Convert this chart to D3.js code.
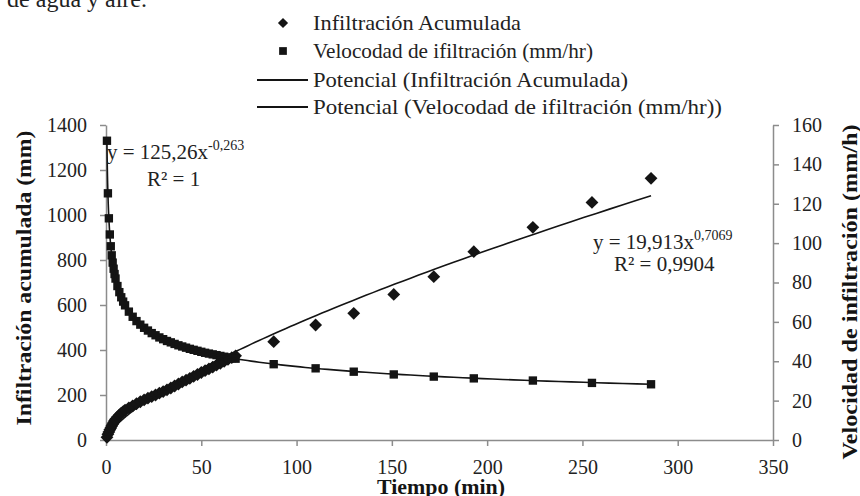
<!DOCTYPE html>
<html>
<head>
<meta charset="utf-8">
<script src="https://cdn.jsdelivr.net/npm/d3@7"></script>
<style>
  body { margin: 0; background: #fff; }
  svg, svg text { font-family: "Liberation Serif", "Times New Roman", serif; }
  svg { display: block; }
  .tick text { font-size: 20px; fill: #222; }
</style>
</head>
<body>
<div id="chart"></div>
<script>
// ── Data ──────────────────────────────────────────────────────────────────
const tiempo = [
  0.5, 1, 1.5, 2, 2.5, 3, 3.5, 4, 4.5, 5, 6, 7, 8, 9, 10, 12, 14, 16, 18, 20,
  22, 24, 26, 28, 30, 32, 34, 36, 38, 40, 42, 44, 46, 48, 50, 52, 54, 56, 58,
  60, 62, 64, 66, 68, 88, 110, 130, 151, 172, 193, 224, 255, 286,
];
const infiltracion = [
  12, 25, 35, 45, 53, 62, 70, 78, 85, 92, 102, 111, 119, 126, 133, 143, 152,
  161, 170, 178, 186, 193, 200, 208, 215, 223, 231, 240, 249, 258, 266, 274,
  283, 291, 300, 308, 316, 324, 333, 341, 350, 358, 366, 374, 437, 511, 563,
  647, 726, 837, 945, 1056, 1163,
];
const velocidad = [
  152, 125.3, 112.6, 104.4, 98.4, 93.8, 90.1, 87.0, 84.3, 82.0, 78.2, 75.1,
  72.5, 70.3, 68.4, 65.2, 62.6, 60.4, 58.6, 57.0, 55.6, 54.3, 53.2, 52.1, 51.2,
  50.3, 49.6, 48.8, 48.1, 47.5, 46.9, 46.3, 45.8, 45.3, 44.8, 44.3, 43.9, 43.5,
  43.1, 42.7, 42.3, 41.9, 41.6, 41.3, 38.5, 36.4, 34.7, 33.3, 32.2, 31.3, 30.2,
  29.0, 28.3,
];

// trendline coefficients shown on the chart (y = a·x^b)
const fitInfiltracion = { a: 19.913, b: 0.7069 };
const fitVelocidad = { a: 125.26, b: -0.263 };

const xTicks = [0, 50, 100, 150, 200, 250, 300, 350];
const yLeftTicks = [0, 200, 400, 600, 800, 1000, 1200, 1400];
const yRightTicks = [0, 20, 40, 60, 80, 100, 120, 140, 160];

const legendLabels = [
  "Infiltración Acumulada",
  "Velocodad de ifiltración (mm/hr)",
  "Potencial (Infiltración Acumulada)",
  "Potencial (Velocodad de ifiltración (mm/hr))",
];

// ── Dimensions ────────────────────────────────────────────────────────────
const W = 860, H = 496;
const margin = { top: 125, right: 87, bottom: 56, left: 106 };
const width = W - margin.left - margin.right;
const height = H - margin.top - margin.bottom;
const ink = "#141414";
const textInk = "#222";
const axisColor = "#8c8c8c";
const serif = "Liberation Serif";

const svg = d3.select("#chart").append("svg").attr("width", W).attr("height", H);

// cropped line of body text above the figure
svg.append("text")
  .attr("x", 147).attr("y", 7)
  .attr("text-anchor", "end")
  .style("font-family", serif)
  .style("font-size", "24px").style("fill", textInk)
  .text("de agua y aire.");

const g = svg.append("g").attr("transform", `translate(${margin.left},${margin.top})`);

// ── Scales ────────────────────────────────────────────────────────────────
const x = d3.scaleLinear().domain([0, 350]).range([0, width]);
const yL = d3.scaleLinear().domain([0, 1400]).range([height, 0]);
const yR = d3.scaleLinear().domain([0, 160]).range([height, 0]);

// ── Axes ──────────────────────────────────────────────────────────────────
function styleAxis(sel) {
  sel.attr("font-family", serif).attr("font-size", 20);
  sel.select(".domain").attr("stroke", axisColor).attr("stroke-width", 1.5);
  sel.selectAll(".tick line").attr("stroke", axisColor).attr("stroke-width", 1.5);
  sel.selectAll(".tick text").style("font-family", serif).attr("fill", textInk);
}

g.append("g")
  .attr("transform", `translate(0,${height})`)
  .call(d3.axisBottom(x).tickValues(xTicks).tickFormat(d3.format("d"))
    .tickSize(6).tickSizeOuter(0).tickPadding(14))
  .call(styleAxis);

g.append("g")
  .call(d3.axisLeft(yL).tickValues(yLeftTicks).tickFormat(d3.format("d"))
    .tickSize(6).tickSizeOuter(0).tickPadding(13))
  .call(styleAxis);

g.append("g")
  .attr("transform", `translate(${width},0)`)
  .call(d3.axisRight(yR).tickValues(yRightTicks).tickFormat(d3.format("d"))
    .tickSize(6).tickSizeOuter(0).tickPadding(13))
  .call(styleAxis);

// ── Axis titles ───────────────────────────────────────────────────────────
const titleStyle = (t) =>
  t.style("font-family", serif)
    .style("font-size", "21px").style("font-weight", "bold").style("fill", ink)
    .attr("lengthAdjust", "spacingAndGlyphs");

svg.append("text")
  .attr("transform", "translate(31,278) rotate(-90)")
  .attr("text-anchor", "middle")
  .attr("textLength", 295)
  .call(titleStyle)
  .text("Infiltración acumulada (mm)");

svg.append("text")
  .attr("transform", "translate(857,292) rotate(-90)")
  .attr("text-anchor", "middle")
  .attr("textLength", 335)
  .call(titleStyle)
  .text("Velocidad de infiltración (mm/h)");

svg.append("text")
  .attr("x", 441).attr("y", 494)
  .attr("text-anchor", "middle")
  .attr("textLength", 128)
  .call(titleStyle)
  .text("Tiempo (min)");

// ── Markers ───────────────────────────────────────────────────────────────
const diamond = d3.symbol().type(d3.symbolSquare).size(82);
const square = d3.symbol().type(d3.symbolSquare).size(70);

g.selectAll(".pt-inf")
  .data(tiempo)
  .join("path")
  .attr("class", "pt-inf")
  .attr("d", diamond)
  .attr("transform", (t, i) => `translate(${x(t)},${yL(infiltracion[i])}) rotate(45)`)
  .attr("fill", ink);

g.selectAll(".pt-vel")
  .data(tiempo)
  .join("path")
  .attr("class", "pt-vel")
  .attr("d", square)
  .attr("transform", (t, i) => `translate(${x(t)},${yR(velocidad[i])})`)
  .attr("fill", ink);

// ── Power trendlines ──────────────────────────────────────────────────────
const tMin = d3.min(tiempo), tMax = d3.max(tiempo);
const tFit = d3.range(0, 241).map((i) => tMin * Math.pow(tMax / tMin, i / 240));

const trend = (fit, scale) =>
  d3.line()
    .x((t) => x(t))
    .y((t) => scale(fit.a * Math.pow(t, fit.b)));

g.append("path")
  .datum(tFit)
  .attr("fill", "none").attr("stroke", ink).attr("stroke-width", 1.6)
  .attr("d", trend(fitInfiltracion, yL));

g.append("path")
  .datum(tFit)
  .attr("fill", "none").attr("stroke", ink).attr("stroke-width", 1.6)
  .attr("d", trend(fitVelocidad, yR));

// ── Equation labels ───────────────────────────────────────────────────────
function plainText(xp, yp, str) {
  return svg.append("text")
    .attr("x", xp).attr("y", yp)
    .style("font-family", serif)
    .style("font-size", "21px").style("fill", textInk)
    .text(str);
}

function equation(xp, yp, base, sup) {
  const t = plainText(xp, yp, null);
  t.append("tspan").text(base);
  t.append("tspan").attr("dy", -9).style("font-size", "14px").text(sup);
}

equation(107, 159, "y = 125,26x", "-0,263");
plainText(147, 186, "R² = 1");

equation(593, 249, "y = 19,913x", "0,7069");
plainText(614, 271, "R² = 0,9904");

// ── Legend ────────────────────────────────────────────────────────────────
const legend = svg.append("g");
const legendY = [23, 51, 80, 107];
const legendLen = [208, 280, 315, 409];

legend.append("path")
  .attr("d", d3.symbol().type(d3.symbolSquare).size(52))
  .attr("transform", `translate(283,${legendY[0]}) rotate(45)`)
  .attr("fill", ink);
legend.append("path")
  .attr("d", d3.symbol().type(d3.symbolSquare).size(60))
  .attr("transform", `translate(283,${legendY[1]})`)
  .attr("fill", ink);

[2, 3].forEach((i) => {
  legend.append("line")
    .attr("x1", 257).attr("x2", 308)
    .attr("y1", legendY[i]).attr("y2", legendY[i])
    .attr("stroke", ink).attr("stroke-width", 2);
});

legendLabels.forEach((label, i) => {
  legend.append("text")
    .attr("x", 313).attr("y", legendY[i] + 7)
    .attr("textLength", legendLen[i])
    .attr("lengthAdjust", "spacingAndGlyphs")
    .style("font-family", serif)
    .style("font-size", "21px").style("fill", textInk)
    .text(label);
});
</script>
</body>
</html>
